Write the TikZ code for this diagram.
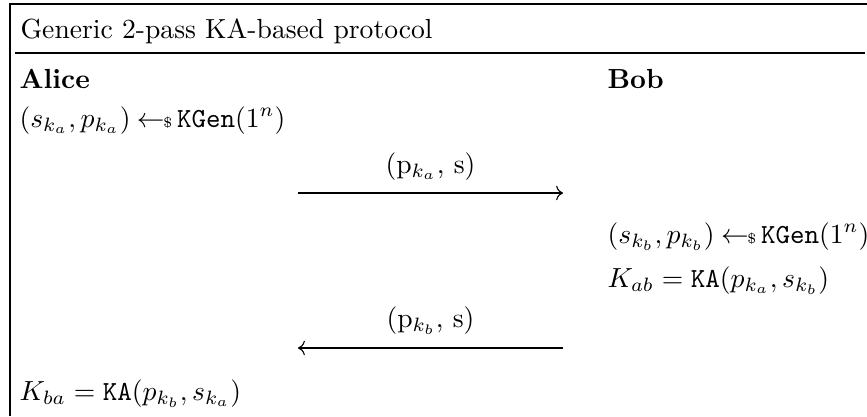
\documentclass[tikz,border=0pt]{standalone}
\usepackage{amsmath}
\usepackage{amssymb}
\usetikzlibrary{arrows.meta}
\newcommand{\sampleFrom}{\hskip2.3pt{\gets\!\!\mbox{\tiny\$}}\,}
\tikzset{
  txt/.style={anchor=base west,inner sep=0pt},
  msg/.style={anchor=base,inner sep=0pt},
}

\begin{document}
\begin{tikzpicture}[x=0.362pt,y=-0.362pt]
	\useasboundingbox (0,0) rectangle (867,416);

	% frame
	\draw (10,416) -- (10,4) -- (867,4);
	\draw (15,53) -- (865,53);
	\node[txt] (title) at (20,38) {Generic 2-pass KA-based protocol};

	\node[txt] (alice) at (19,88) {\textbf{Alice}};
	\node[txt] (bob) at (607,88) {\textbf{Bob}};

	\node[txt] (akgen) at (19,127) {$(s_{k_a}, p_{k_a}) \sampleFrom \texttt{KGen}(1^n)$};

	\coordinate (m1a) at (298,193);
	\coordinate (m1b) at (563,193);
	\node[msg] (msg1) at (430.5,173) {(p$_{k_a}$, s)};
	\draw[->] (m1a) -- (m1b);

	\node[txt] (bkgen) at (607,243) {$(s_{k_b}, p_{k_b}) \sampleFrom \texttt{KGen}(1^n)$};
	\node[txt] (bkey) at (607,287) {$K_{ab} = \texttt{KA}(p_{k_a}, s_{k_b})$};

	\coordinate (m2a) at (563,348);
	\coordinate (m2b) at (298,348);
	\node[msg] (msg2) at (430.5,327) {(p$_{k_b}$, s)};
	\draw[->] (m2a) -- (m2b);

	\node[txt] (akey) at (19,400) {$K_{ba} = \texttt{KA}(p_{k_b}, s_{k_a})$};
\end{tikzpicture}
\end{document}
